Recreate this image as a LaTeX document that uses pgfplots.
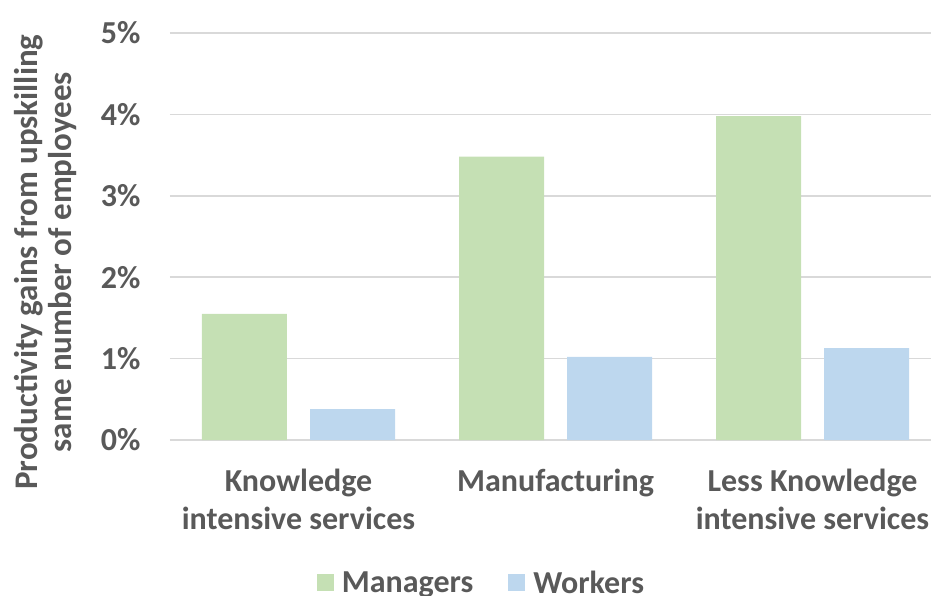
\documentclass[border=0pt]{standalone}
\usepackage{pgfplots}
\pgfplotsset{compat=1.18}
\usepackage{fontspec}
\setmainfont{Carlito}
\definecolor{txt}{HTML}{595959}
\definecolor{gridc}{HTML}{D9D9D9}
\definecolor{mgr}{HTML}{C5E0B4}
\definecolor{wrk}{HTML}{BDD7EE}
\begin{document}
\begin{tikzpicture}
\useasboundingbox (-170pt,-156pt) rectangle (761pt,440pt);
\clip (-170pt,-156pt) rectangle (761pt,440pt);
\begin{axis}[
  scale only axis,
  width=771pt, height=407pt,
  xmin=-0.5, xmax=2.5,
  ymin=0, ymax=5,
  ybar=23pt, bar width=85pt,
  axis line style={draw=none},
  major tick length=0pt,
  xmajorgrids=false,
  ymajorgrids, major grid style={draw=gridc, line width=1.5pt},
  ytick={0,1,2,3,4,5},
  yticklabels={0\%,1\%,2\%,3\%,4\%,5\%},
  xtick={0,1,2},
  xticklabels={Knowledge\\intensive services, Manufacturing, Less Knowledge\\intensive services},
  yticklabel style={anchor=east, xshift=-26pt, font=\fontsize{32}{38}\selectfont\bfseries\color{txt}},
  xticklabel style={align=center, anchor=north, yshift=-26pt, font=\fontsize{32}{38}\selectfont\bfseries\color{txt}},
  ylabel={Productivity gains from upskilling\\same number of employees},
  ylabel style={at={(axis description cs:-0.161,0.437)}, anchor=center, align=center, font=\fontsize{33}{34}\selectfont\bfseries\color{txt}},
  legend style={at={(axis description cs:0.404,-0.351)}, anchor=center, draw=none, fill=none, legend columns=2,
    font=\fontsize{32}{38}\selectfont\bfseries\color{txt},
    /tikz/every odd column/.append style={column sep=6pt},
    /tikz/every even column/.append style={column sep=33pt}},
  legend image code/.code={\fill[#1] (0pt,-8.5pt) rectangle (17pt,8.5pt);},
]
\addplot[fill=mgr, draw=none] coordinates {(0,1.55) (1,3.48) (2,3.98)};
\addplot[fill=wrk, draw=none] coordinates {(0,0.38) (1,1.02) (2,1.13)};
\legend{Managers, Workers}
\end{axis}
\end{tikzpicture}
\end{document}
